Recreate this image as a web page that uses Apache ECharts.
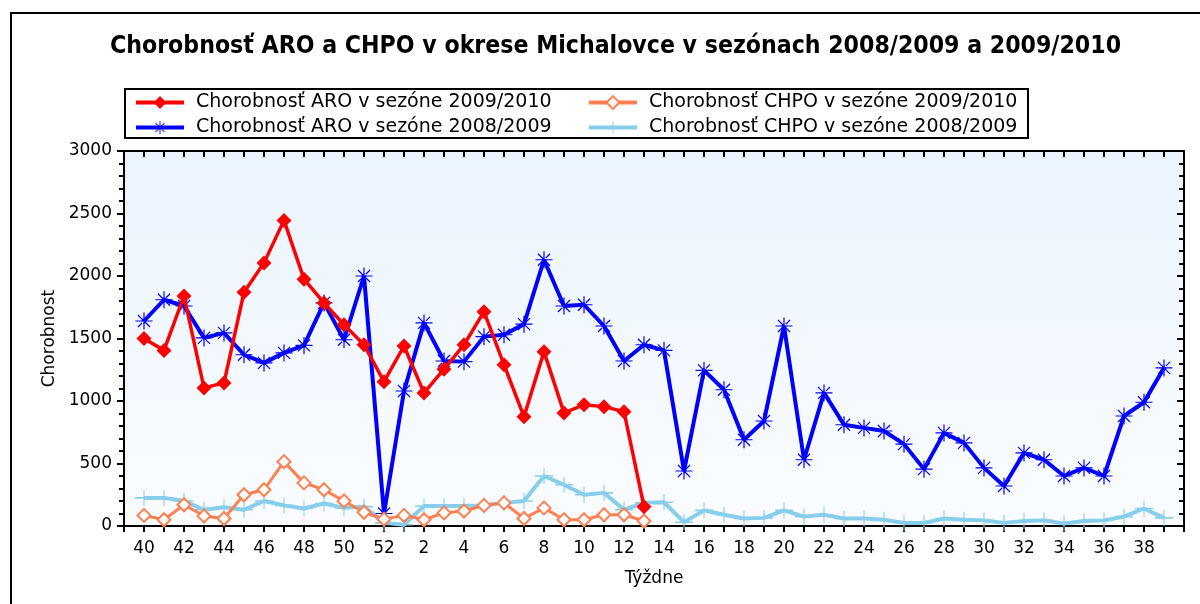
<!DOCTYPE html>
<html><head><meta charset="utf-8">
<script src="https://cdn.jsdelivr.net/npm/echarts@6/dist/echarts.min.js"></script>
<style>html,body{margin:0;padding:0;background:#fff}#c{width:1200px;height:604px}</style>
</head><body><div id="c"></div>
<script>
const weeks = [40,41,42,43,44,45,46,47,48,49,50,51,52,1,2,3,4,5,6,7,8,9,10,11,12,13,14,15,16,17,18,19,20,21,22,23,24,25,26,27,28,29,30,31,32,33,34,35,36,37,38,39];
const aro0910 = [1500,1405,1840,1105,1145,1870,2105,2445,1975,1785,1610,1450,1155,1440,1065,1255,1450,1715,1290,875,1395,905,970,955,915,155];
const aro0809 = [1640,1810,1760,1505,1545,1370,1305,1385,1445,1785,1490,2000,100,1080,1625,1320,1315,1515,1530,1615,2130,1760,1770,1600,1320,1450,1405,440,1245,1090,690,840,1600,530,1065,810,785,760,655,455,745,665,465,320,585,530,400,465,400,880,990,1265];
const chpo0910 = [85,50,170,80,60,250,290,515,345,290,200,110,55,85,50,105,120,165,185,60,145,50,50,90,90,40];
const chpo0809 = [225,225,200,130,150,130,200,165,140,180,145,155,25,10,160,160,160,165,185,200,400,330,250,265,130,185,190,30,125,90,60,65,125,75,90,60,60,50,25,25,60,50,45,25,40,45,20,40,45,75,140,65];
const names = ['Chorobnosť ARO v sezóne 2009/2010','Chorobnosť CHPO v sezóne 2009/2010','Chorobnosť ARO v sezóne 2008/2009','Chorobnosť CHPO v sezóne 2008/2009'];
const titleText = 'Chorobnosť ARO a CHPO v okrese Michalovce v sezónach 2008/2009 a 2009/2010';
const yName = 'Chorobnost';
const xName = 'Týždne';

const pts = arr => arr.map((v,i)=>[i,v]);
const F = 'DejaVu Sans';
const asterisk = 'path://M-0.7,-10L0.7,-10L0.7,10L-0.7,10Z M-10,-0.7L10,-0.7L10,0.7L-10,0.7Z M-7.6,-6.6L-6.6,-7.6L7.6,6.6L6.6,7.6Z M-7.6,6.6L-6.6,7.6L7.6,-6.6L6.6,-7.6Z M-2.5,-2.5L2.5,-2.5L2.5,2.5L-2.5,2.5Z';
const plus = 'path://M-0.6,-10L0.6,-10L0.6,10L-0.6,10Z M-10,-1L10,-1L10,1L-10,1Z';

const chart = echarts.init(document.getElementById('c'));
const axisLine = {show:true, onZero:false, lineStyle:{color:'#000', width:2}};
const legendText = {fontFamily:F, fontSize:19, color:'#000', padding:[0,0,0,7]};
chart.setOption({
  animation:false,
  backgroundColor:'#fff',
  title:{text:titleText, left:105, top:29, textStyle:{fontFamily:'DejaVu Sans Condensed', fontWeight:'bold', fontSize:24.6, color:'#000'}},
  legend:[
    {left:129, top:88, orient:'vertical', itemGap:6, itemWidth:48, itemHeight:16, data:[names[0],names[2]], textStyle:legendText, lineStyle:{width:4}},
    {left:582, top:88, orient:'vertical', itemGap:6, itemWidth:48, itemHeight:16, data:[names[1],names[3]], textStyle:legendText, lineStyle:{width:4}}
  ],
  graphic:[
    {type:'rect', shape:{x:11, y:13, width:1300, height:700}, style:{fill:null, stroke:'#000', lineWidth:2}, silent:true},
    {type:'rect', shape:{x:125, y:89, width:903, height:49}, style:{fill:null, stroke:'#000', lineWidth:2}, silent:true}
  ],
  grid:{left:124, right:16, top:151, bottom:78, show:true, borderWidth:0,
    backgroundColor:{type:'linear', x:0, y:0, x2:0, y2:1, colorStops:[{offset:0,color:'#eaf4fe'},{offset:1,color:'#fafcff'}]}},
  xAxis:[
    {type:'value', min:-1, max:52, interval:1, position:'bottom', axisLine:axisLine,
     axisTick:{show:true, length:6, lineStyle:{color:'#000', width:2}},
     axisLabel:{fontFamily:F, fontSize:17, color:'#000', margin:14, showMinLabel:true, showMaxLabel:true,
       formatter:v=> (v>=0 && v<weeks.length && v%2===0) ? String(weeks[v]) : ''},
     splitLine:{show:false}, name:xName, nameLocation:'middle', nameGap:44,
     nameTextStyle:{fontFamily:F, fontSize:17, color:'#000'}},
    {type:'value', min:-1, max:52, interval:1, position:'top', axisLine:axisLine,
     axisTick:{show:true, inside:true, length:6, lineStyle:{color:'#000', width:2}},
     axisLabel:{show:false}, splitLine:{show:false}}
  ],
  yAxis:[
    {type:'value', min:0, max:3000, interval:500, position:'left', axisLine:axisLine,
     axisTick:{show:true, length:7, lineStyle:{color:'#000', width:2}},
     minorTick:{show:true, splitNumber:5, length:5, lineStyle:{color:'#000', width:2}},
     axisLabel:{fontFamily:F, fontSize:17, color:'#000', margin:12, formatter:v=>String(v)},
     splitLine:{show:false}, minorSplitLine:{show:false},
     name:yName, nameLocation:'middle', nameGap:66, nameRotate:90,
     nameTextStyle:{fontFamily:F, fontSize:17, color:'#000'}},
    {type:'value', min:0, max:3000, interval:500, position:'right', axisLine:axisLine,
     axisTick:{show:true, inside:true, length:7, lineStyle:{color:'#000', width:2}},
     minorTick:{show:true, splitNumber:5, length:5, lineStyle:{color:'#000', width:2}},
     axisLabel:{show:false}, splitLine:{show:false}, minorSplitLine:{show:false}}
  ],
  series:[
    {name:names[3], type:'line', data:pts(chpo0809), symbol:plus, symbolSize:[18,16], color:'#87ceeb',
     lineStyle:{width:4, color:'#87ceeb'}, itemStyle:{color:'#87ceeb'}, z:2},
    {name:names[2], type:'line', data:pts(aro0809), symbol:asterisk, symbolSize:17, color:'#0000ff',
     lineStyle:{width:4, color:'#0000ff'}, itemStyle:{color:'#0000ff'}, z:3},
    {name:names[1], type:'line', data:pts(chpo0910), symbol:'emptyDiamond', symbolSize:13, color:'#ff7f50',
     lineStyle:{width:3, color:'#ff7f50'}, itemStyle:{color:'#ff7f50', borderWidth:1.2}, z:4},
    {name:names[0], type:'line', data:pts(aro0910), symbol:'diamond', symbolSize:15, color:'#ff0000',
     lineStyle:{width:3.5, color:'#ff0000'}, itemStyle:{color:'#ff0000'}, z:5}
  ]
});
</script></body></html>
